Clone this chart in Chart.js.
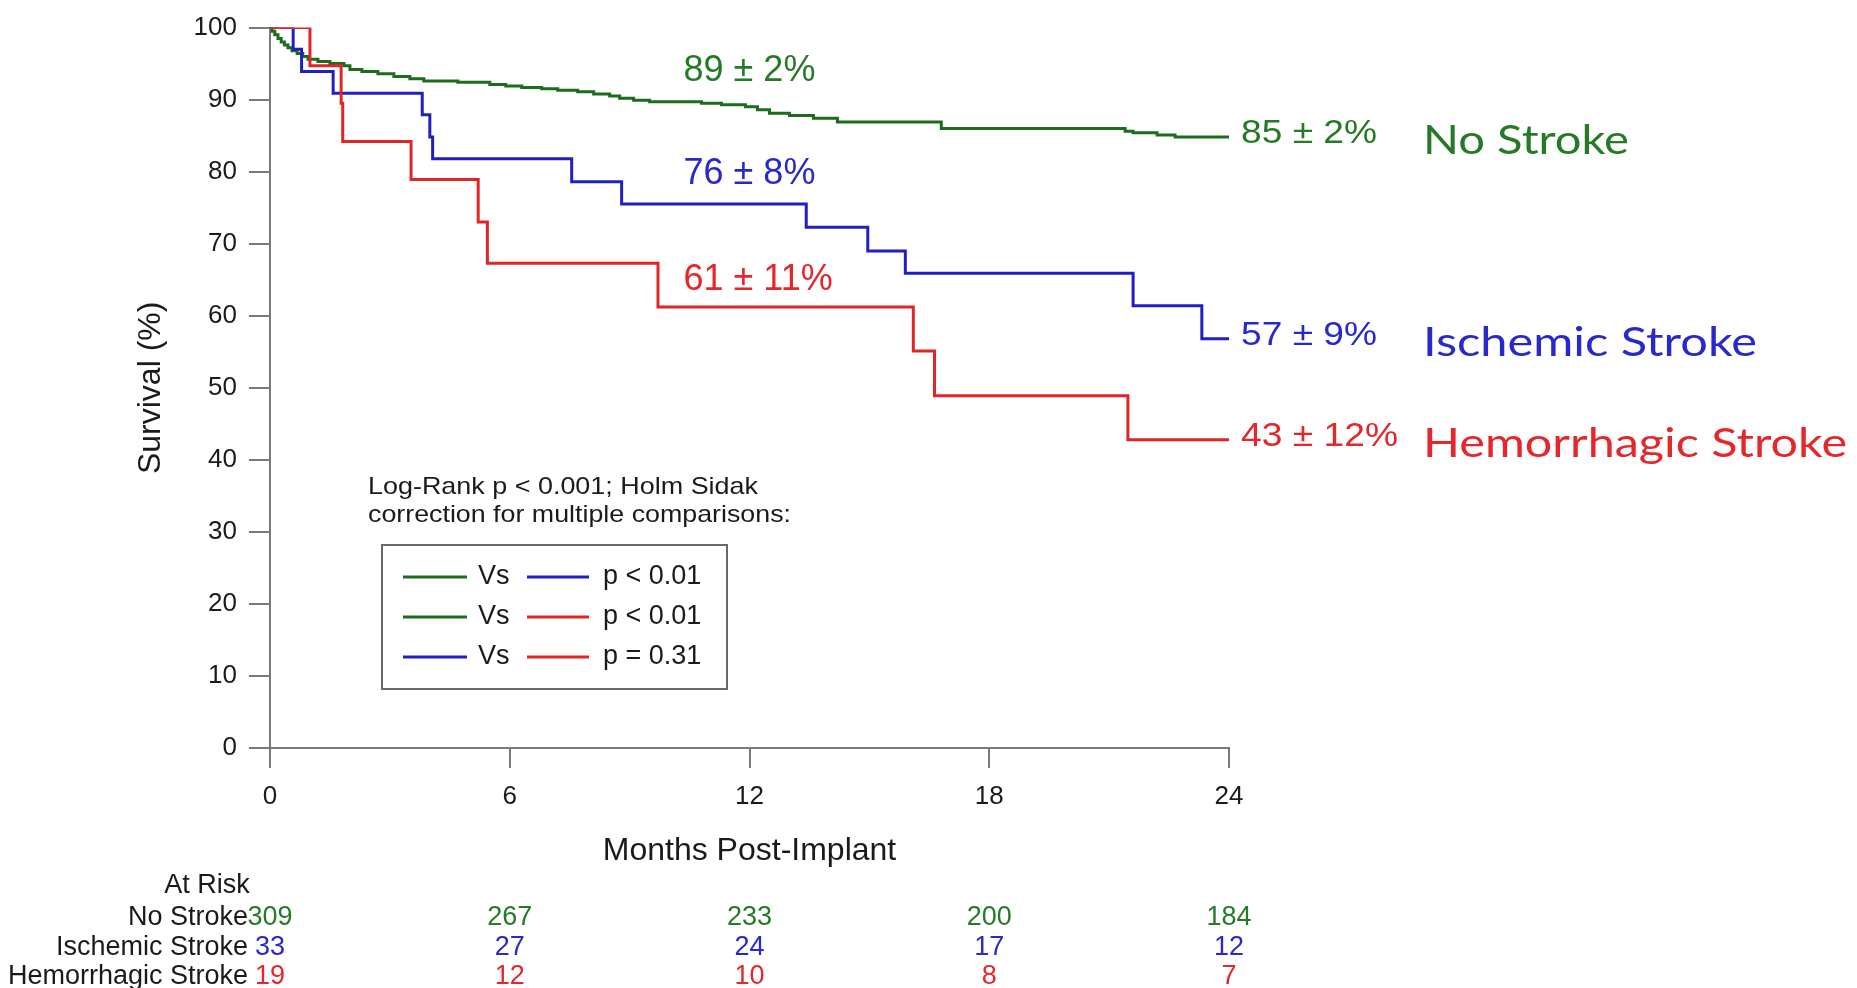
<!DOCTYPE html>
<html>
<head>
<meta charset="utf-8">
<title>Survival by stroke type</title>
<script src="https://cdn.jsdelivr.net/npm/chart.js@4"></script>
<style>
  html, body { margin: 0; padding: 0; background: #fff; }
  #chart { display: block; }
</style>
</head>
<body>
<canvas id="chart" width="1857" height="988"></canvas>
<script>
// Kaplan-Meier steps (months, survival %)
const noStrokeMonths = [0, 0.05, 0.12, 0.2, 0.28, 0.36, 0.45, 0.55, 0.68, 0.82, 0.95, 1.2, 1.5, 1.85, 2.0, 2.3, 2.7, 3.1, 3.5, 3.85,
  4.7, 5.5, 5.9, 6.3, 6.8, 7.2, 7.7, 8.1, 8.5, 8.75, 9.1, 9.5, 10.8, 11.3, 11.9, 12.2, 12.5, 13.0, 13.6, 14.2,
  16.8, 21.4, 21.6, 22.2, 22.65, 24];
const noStrokeSurvival = [100, 99.5, 99.0, 98.5, 98.0, 97.6, 97.2, 96.8, 96.4, 96.0, 95.6, 95.3, 95.0, 94.7, 94.2, 93.9, 93.6, 93.2, 92.9, 92.6,
  92.4, 92.1, 91.9, 91.7, 91.5, 91.3, 91.1, 90.8, 90.5, 90.2, 89.9, 89.7, 89.5, 89.3, 89.0, 88.6, 88.1, 87.8, 87.4, 86.9,
  86.0, 85.6, 85.4, 85.1, 84.8, 84.8];

const ischemicMonths = [0, 0.58, 0.79, 1.58, 3.81, 4.0, 4.07, 7.55, 8.8, 13.42, 14.96, 15.9, 21.6, 23.32, 24];
const ischemicSurvival = [100, 97.0, 93.9, 90.9, 87.9, 84.8, 81.8, 78.6, 75.5, 72.3, 69.0, 65.9, 61.4, 56.8, 56.8];

const hemorrhagicMonths = [0, 1.0, 1.78, 1.82, 3.53, 5.21, 5.44, 9.71, 16.1, 16.63, 21.47, 24];
const hemorrhagicSurvival = [100, 94.7, 89.5, 84.2, 78.9, 73.0, 67.3, 61.2, 55.1, 48.9, 42.8, 42.8];

const groupNames = ['No Stroke', 'Ischemic Stroke', 'Hemorrhagic Stroke'];
const survival12 = [89, 76, 61];
const error12 = [2, 8, 11];
const survival24 = [85, 57, 43];
const error24 = [2, 9, 12];

const atRiskMonths = [0, 6, 12, 18, 24];
const atRiskNoStroke = [309, 267, 233, 200, 184];
const atRiskIschemic = [33, 27, 24, 17, 12];
const atRiskHemorrhagic = [19, 12, 10, 8, 7];

const pairwise = [[0, 1, 'p < 0.01'], [0, 2, 'p < 0.01'], [1, 2, 'p = 0.31']];

const lineColors = ['#1d6b1d', '#1f1fc4', '#e22424'];
const textColors = ['#257a25', '#2828cc', '#e5262b'];
const FONT = "'Liberation Sans', Arial, sans-serif";

const toPoints = (xs, ys) => xs.map((x, i) => ({ x, y: ys[i] }));

// draw text squeezed/stretched to a given width
function fitText(ctx, text, x, y, width) {
  const w = ctx.measureText(text).width;
  ctx.save();
  ctx.translate(x, y);
  ctx.scale(width / w, 1);
  ctx.fillText(text, 0, 0);
  ctx.restore();
}

const extras = {
  id: 'extras',
  afterDraw(chart) {
    const ctx = chart.ctx;
    const xs = chart.scales.x, ys = chart.scales.y;
    const ends = [noStrokeSurvival, ischemicSurvival, hemorrhagicSurvival].map(a => a[a.length - 1]);

    ctx.save();
    ctx.textBaseline = 'middle';

    // 12-month estimates inside the plot
    const midY = [93.9, 79.6, 64.9];
    ctx.font = '36px ' + FONT;
    ctx.textAlign = 'left';
    survival12.forEach((v, i) => {
      ctx.fillStyle = textColors[i];
      ctx.fillText(v + ' \u00b1 ' + error12[i] + '%', xs.getPixelForValue(10.35), ys.getPixelForValue(midY[i]));
    });

    // 24-month estimates and group names on the right
    const endX = xs.getPixelForValue(24) + 12;
    survival24.forEach((v, i) => {
      const y = ys.getPixelForValue(ends[i]) - 3;
      ctx.fillStyle = textColors[i];
      ctx.font = '33px ' + FONT;
      const s = v + ' \u00b1 ' + error24[i] + '%';
      fitText(ctx, s, endX, y, s.length > 7 ? 157 : 136);
      ctx.font = "40px Lato, 'Open Sans', sans-serif";
      fitText(ctx, groupNames[i], 1423, ys.getPixelForValue(ends[i]) + 4, [206, 334, 424][i]);
    });

    // statistics note
    ctx.fillStyle = '#1a1a1a';
    ctx.font = '24px ' + FONT;
    fitText(ctx, 'Log-Rank p < 0.001; Holm Sidak', 368, 487, 390);
    fitText(ctx, 'correction for multiple comparisons:', 368, 515, 423);

    // comparison box
    ctx.strokeStyle = '#6a6a6a';
    ctx.lineWidth = 2;
    ctx.strokeRect(382, 545, 345, 144);
    ctx.font = '27px ' + FONT;
    pairwise.forEach(([a, b, p], r) => {
      const y = 577 + r * 40;
      ctx.lineWidth = 3;
      ctx.strokeStyle = lineColors[a];
      ctx.beginPath(); ctx.moveTo(403, y); ctx.lineTo(467, y); ctx.stroke();
      ctx.strokeStyle = lineColors[b];
      ctx.beginPath(); ctx.moveTo(527, y); ctx.lineTo(589, y); ctx.stroke();
      ctx.fillStyle = '#1a1a1a';
      ctx.fillText('Vs', 478, y);
      ctx.fillText(p, 603, y);
    });

    // numbers at risk
    ctx.font = '27px ' + FONT;
    ctx.textAlign = 'center';
    ctx.fillStyle = '#1a1a1a';
    ctx.fillText('At Risk', 207, 886);
    const rows = [atRiskNoStroke, atRiskIschemic, atRiskHemorrhagic];
    rows.forEach((vals, r) => {
      const y = 918 + r * 29.5;
      ctx.textAlign = 'right';
      ctx.fillStyle = '#1a1a1a';
      ctx.fillText(groupNames[r], 248, y);
      ctx.textAlign = 'center';
      ctx.fillStyle = textColors[r];
      vals.forEach((n, k) => ctx.fillText(String(n), xs.getPixelForValue(atRiskMonths[k]), y));
    });
    ctx.restore();
  }
};

const axisGray = '#7a7a7a';

new Chart(document.getElementById('chart'), {
  type: 'line',
  data: {
    datasets: [
      { label: groupNames[2], data: toPoints(hemorrhagicMonths, hemorrhagicSurvival), borderColor: lineColors[2] },
      { label: groupNames[1], data: toPoints(ischemicMonths, ischemicSurvival), borderColor: lineColors[1] },
      { label: groupNames[0], data: toPoints(noStrokeMonths, noStrokeSurvival), borderColor: lineColors[0] }
    ].map(d => Object.assign(d, { stepped: 'before', pointRadius: 0, borderWidth: 3, fill: false }))
  },
  options: {
    responsive: false,
    animation: false,
    layout: { padding: { left: 120, top: 25, right: 628, bottom: 110 } },
    plugins: { legend: { display: false }, tooltip: { enabled: false } },
    scales: {
      x: {
        type: 'linear', min: 0, max: 24,
        afterFit: s => { s.height = 130; },
        grid: { drawOnChartArea: false, color: axisGray, lineWidth: 2, tickLength: 20 },
        border: { color: axisGray, width: 2 },
        ticks: { stepSize: 6, padding: 13, color: '#1a1a1a', font: { family: FONT, size: 26 } },
        title: { display: true, text: 'Months Post-Implant', color: '#1a1a1a', font: { family: FONT, size: 32 }, padding: { top: 0, bottom: 8 } }
      },
      y: {
        min: 0, max: 100,
        afterFit: s => { s.width = 150; },
        grid: { drawOnChartArea: false, color: axisGray, lineWidth: 2, tickLength: 21 },
        border: { color: axisGray, width: 2 },
        ticks: { stepSize: 10, padding: 12, color: '#1a1a1a', font: { family: FONT, size: 26 } },
        title: { display: true, text: 'Survival (%)', color: '#1a1a1a', font: { family: FONT, size: 32 }, padding: { top: 12, bottom: 0 } }
      }
    }
  },
  plugins: [extras]
});
</script>
</body>
</html>
